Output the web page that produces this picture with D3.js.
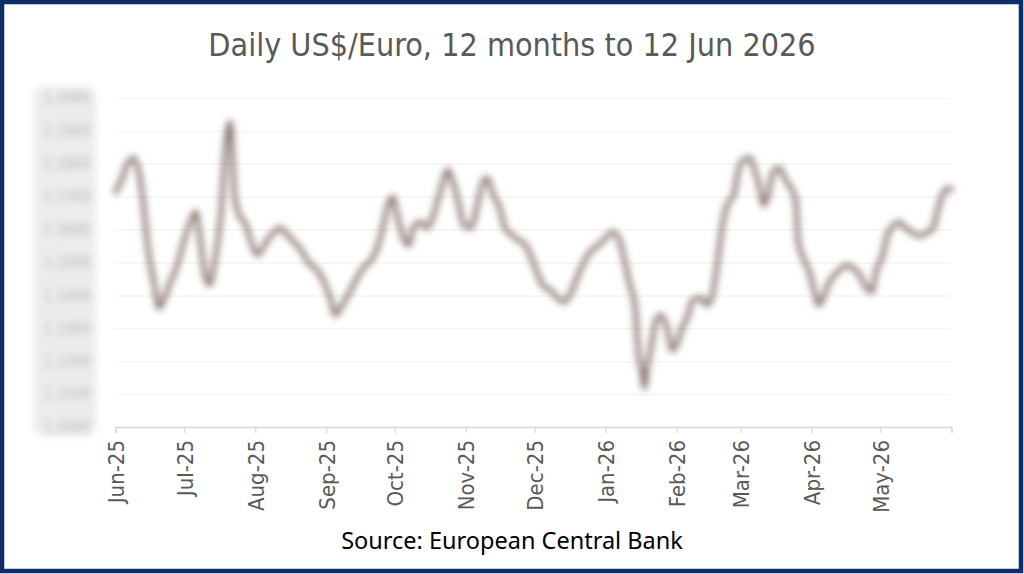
<!DOCTYPE html>
<html>
<head>
<meta charset="utf-8">
<script src="https://cdn.jsdelivr.net/npm/d3@7"></script>
<style>
  html, body { margin: 0; padding: 0; background: #fff; }
  svg { display: block; }
</style>
</head>
<body>
<svg id="chart" width="1024" height="574"></svg>
<script>
// Tageskurse US$ je Euro
const dates = [
  "2025-06-12", "2025-06-15", "2025-06-17", "2025-06-20", "2025-06-22", "2025-06-24", "2025-06-26", "2025-06-29",
  "2025-07-01", "2025-07-03", "2025-07-06", "2025-07-09", "2025-07-12", "2025-07-15", "2025-07-17", "2025-07-19",
  "2025-07-21", "2025-07-23", "2025-07-25", "2025-07-28", "2025-07-30",
  "2025-08-01", "2025-08-02", "2025-08-03", "2025-08-05", "2025-08-08", "2025-08-10", "2025-08-13", "2025-08-16",
  "2025-08-19", "2025-08-23", "2025-08-26", "2025-08-29",
  "2025-09-01", "2025-09-04", "2025-09-08", "2025-09-11", "2025-09-14", "2025-09-16", "2025-09-19", "2025-09-22",
  "2025-09-25", "2025-09-28",
  "2025-10-01", "2025-10-04", "2025-10-07", "2025-10-09", "2025-10-11", "2025-10-13", "2025-10-16", "2025-10-18",
  "2025-10-20", "2025-10-23", "2025-10-26", "2025-10-28",
  "2025-11-01", "2025-11-04", "2025-11-06", "2025-11-09", "2025-11-11", "2025-11-14", "2025-11-17", "2025-11-19",
  "2025-11-21", "2025-11-24", "2025-11-27", "2025-11-29",
  "2025-12-02", "2025-12-05", "2025-12-08", "2025-12-11", "2025-12-14", "2025-12-16", "2025-12-19", "2025-12-22",
  "2025-12-25", "2025-12-28", "2025-12-31",
  "2026-01-03", "2026-01-06", "2026-01-09", "2026-01-12", "2026-01-15", "2026-01-18", "2026-01-20", "2026-01-22",
  "2026-01-25", "2026-01-26", "2026-01-28", "2026-01-29", "2026-01-30",
  "2026-02-01", "2026-02-03", "2026-02-05", "2026-02-08", "2026-02-10", "2026-02-12", "2026-02-14", "2026-02-17",
  "2026-02-19", "2026-02-23", "2026-02-25", "2026-02-27",
  "2026-03-02", "2026-03-04", "2026-03-06", "2026-03-09", "2026-03-11", "2026-03-13", "2026-03-16", "2026-03-18",
  "2026-03-20", "2026-03-22", "2026-03-24", "2026-03-26", "2026-03-29", "2026-03-31",
  "2026-04-02", "2026-04-05", "2026-04-06", "2026-04-09", "2026-04-11", "2026-04-13", "2026-04-15", "2026-04-17",
  "2026-04-19", "2026-04-22", "2026-04-25", "2026-04-27", "2026-04-30",
  "2026-05-03", "2026-05-05", "2026-05-08", "2026-05-10", "2026-05-13", "2026-05-15", "2026-05-18", "2026-05-20",
  "2026-05-23", "2026-05-26", "2026-05-29",
  "2026-06-01", "2026-06-04", "2026-06-06", "2026-06-08", "2026-06-11", "2026-06-12"
];

const rates = [
  1.1714, 1.1757, 1.1797, 1.1818, 1.1781, 1.1690, 1.1553, 1.1432,
  1.1362, 1.1386, 1.1441, 1.1492, 1.1568, 1.1629, 1.1654, 1.1568,
  1.1462, 1.1432, 1.1492, 1.1644, 1.1842,
  1.1927, 1.1842, 1.1705, 1.1644, 1.1614, 1.1568, 1.1523, 1.1553,
  1.1584, 1.1605, 1.1584, 1.1562,
  1.1538, 1.1502, 1.1477, 1.1441, 1.1386, 1.1340, 1.1371, 1.1407,
  1.1447, 1.1483,
  1.1502, 1.1538, 1.1614, 1.1675, 1.1699, 1.1644, 1.1568, 1.1553,
  1.1605, 1.1623, 1.1605, 1.1629,
  1.1720, 1.1781, 1.1751, 1.1675, 1.1614, 1.1605, 1.1675, 1.1736,
  1.1757, 1.1705, 1.1660, 1.1605,
  1.1584, 1.1568, 1.1553, 1.1508, 1.1453, 1.1426, 1.1416, 1.1392,
  1.1380, 1.1410, 1.1462,
  1.1508, 1.1538, 1.1553, 1.1575, 1.1593, 1.1568, 1.1514, 1.1447,
  1.1356, 1.1249, 1.1158, 1.1119, 1.1173,
  1.1249, 1.1325, 1.1340, 1.1295, 1.1234, 1.1249, 1.1295, 1.1340,
  1.1386, 1.1392, 1.1371, 1.1386,
  1.1508, 1.1614, 1.1675, 1.1705, 1.1781, 1.1812, 1.1818, 1.1781,
  1.1736, 1.1675, 1.1705, 1.1775, 1.1787, 1.1757,
  1.1736, 1.1690, 1.1568, 1.1502, 1.1471, 1.1416, 1.1371, 1.1392,
  1.1432, 1.1462, 1.1483, 1.1492, 1.1483,
  1.1462, 1.1432, 1.1410, 1.1471, 1.1523, 1.1584, 1.1614, 1.1623,
  1.1605, 1.1590, 1.1581,
  1.1590, 1.1605, 1.1660, 1.1705, 1.1727, 1.1720
];

// Achsenbeschriftungen
const yTicks = [1.10, 1.11, 1.12, 1.13, 1.14, 1.15, 1.16, 1.17, 1.18, 1.19, 1.20];
const xTicks = [
  "2025-06-12", "2025-07-12", "2025-08-12", "2025-09-12", "2025-10-12", "2025-11-12", "2025-12-12",
  "2026-01-12", "2026-02-12", "2026-03-12", "2026-04-12", "2026-05-12", "2026-06-12"
];
const xTickLabels = ["Jun-25", "Jul-25", "Aug-25", "Sep-25", "Oct-25", "Nov-25", "Dec-25",
  "Jan-26", "Feb-26", "Mar-26", "Apr-26", "May-26", ""];

const titleText = "Daily US$/Euro, 12 months to 12 Jun 2026";
const sourceText = "Source: European Central Bank";

const W = 1024, H = 574;
const plot = { left: 115.5, right: 951.5, top: 98, bottom: 427 };
const narrowFont = '"Liberation Sans Narrow", "DejaVu Sans Condensed", "Liberation Sans", sans-serif';

const parse = d3.timeParse('%Y-%m-%d');
const series = dates.map((d, i) => ({ date: parse(d), value: rates[i] }));

const svg = d3.select('#chart');

// Weichzeichner für Linie und verdeckte y-Beschriftung
const defs = svg.append('defs');
defs.append('filter').attr('id', 'blurLine')
    .attr('x', '-5%').attr('y', '-20%').attr('width', '110%').attr('height', '140%')
  .append('feGaussianBlur').attr('stdDeviation', 3.6);
defs.append('filter').attr('id', 'blurLabels')
    .attr('x', '-30%').attr('y', '-10%').attr('width', '160%').attr('height', '120%')
  .append('feGaussianBlur').attr('stdDeviation', 3.5);

svg.append('rect')
    .attr('width', W).attr('height', H)
    .attr('fill', '#fff');

const x = d3.scaleTime()
    .domain([parse(xTicks[0]), parse(xTicks[xTicks.length - 1])])
    .range([plot.left, plot.right]);

const y = d3.scaleLinear()
    .domain([yTicks[0], yTicks[yTicks.length - 1]])
    .range([plot.bottom, plot.top]);

// Gitternetz
svg.append('g')
    .attr('transform', `translate(${plot.left},0)`)
    .call(d3.axisLeft(y).tickValues(yTicks).tickSize(-(plot.right - plot.left)).tickFormat(''))
    .call(g => g.select('.domain').remove())
    .call(g => g.selectAll('line').attr('stroke', '#f5f5f5').attr('stroke-width', 1.5));

// y-Beschriftung (verwischt wie im Original)
const yLab = svg.append('g').attr('filter', 'url(#blurLabels)');
yLab.append('rect')
    .attr('x', 33).attr('y', 86).attr('width', 63).attr('height', 350)
    .attr('rx', 12)
    .attr('fill', '#ececec');
yLab.append('g')
    .attr('transform', `translate(${plot.left - 22},0)`)
    .call(d3.axisLeft(y).tickValues(yTicks).tickSize(0).tickFormat(d3.format('.4f')))
    .call(g => g.select('.domain').remove())
    .call(g => g.selectAll('text')
        .attr('fill', '#b0b0b0')
        .style('font-family', narrowFont)
        .style('font-size', '15px'));

// x-Achse
const xAxis = svg.append('g')
    .attr('transform', `translate(0,${plot.bottom})`)
    .call(d3.axisBottom(x)
        .tickValues(xTicks.map(parse))
        .tickSize(6)
        .tickFormat((d, i) => xTickLabels[i]));

xAxis.select('.domain').attr('stroke', '#d9d9d9').attr('stroke-width', 1.3);
xAxis.selectAll('.tick line').attr('stroke', '#d9d9d9').attr('stroke-width', 1.3);
xAxis.selectAll('.tick text')
    .attr('fill', '#595959')
    .style('font-family', narrowFont)
    .style('font-size', '22px')
    .attr('text-anchor', 'end')
    .attr('transform', 'rotate(-90)')
    .attr('x', -13)
    .attr('y', 0)
    .attr('dy', '0.36em');

// Kurslinie
svg.append('path')
    .datum(series)
    .attr('fill', 'none')
    .attr('stroke', '#84706b')
    .attr('stroke-width', 4.5)
    .attr('stroke-linejoin', 'round')
    .attr('stroke-linecap', 'round')
    .attr('filter', 'url(#blurLine)')
    .attr('d', d3.line()
        .x(d => x(d.date))
        .y(d => y(d.value))
        .curve(d3.curveMonotoneX));

// Titel
svg.append('text')
    .attr('x', W / 2).attr('y', 56)
    .attr('text-anchor', 'middle')
    .attr('fill', '#595959')
    .style('font-family', narrowFont)
    .style('font-size', '32px')
    .text(titleText);

// Quelle
svg.append('text')
    .attr('x', W / 2).attr('y', 549)
    .attr('text-anchor', 'middle')
    .attr('fill', '#000')
    .style('font-family', '"Noto Sans", "Open Sans", sans-serif')
    .style('font-size', '23.5px')
    .text(sourceText);

// Rahmen
svg.append('rect')
    .attr('x', 2).attr('y', 2)
    .attr('width', W - 5).attr('height', H - 5)
    .attr('fill', 'none')
    .attr('stroke', '#0d2c6a')
    .attr('stroke-width', 4.5);
</script>
</body>
</html>
